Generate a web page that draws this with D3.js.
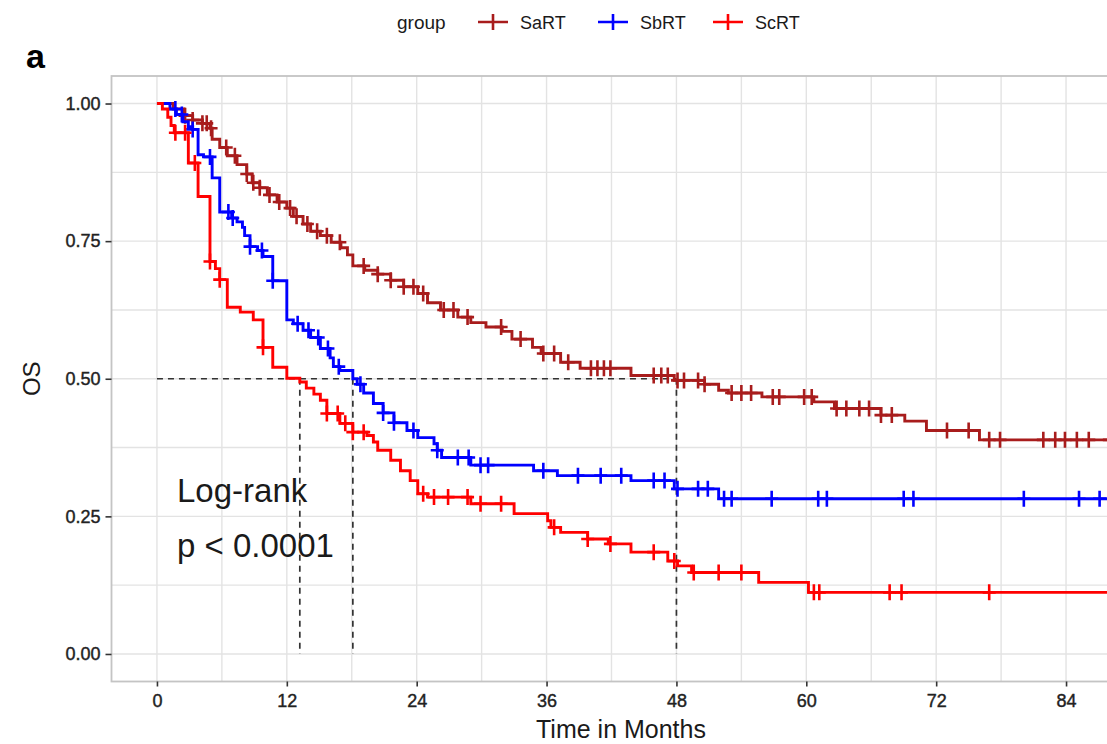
<!DOCTYPE html>
<html>
<head>
<meta charset="utf-8">
<script src="https://cdn.jsdelivr.net/npm/d3@7"></script>
<style>
  body { margin: 0; background: #fff; }
  text { font-family: "Liberation Sans", Arial, sans-serif; }
</style>
</head>
<body>
<div id="vis"></div>
<script>
'use strict';

// Group names and line colours
const groups = ["SaRT", "SbRT", "ScRT"];
const groupColors = ["#A81C1C", "#0000FF", "#FF0000"];

// Kaplan-Meier steps: time (months) where the curve drops, and survival after the drop
const saTimes = [0, 1.5, 2.5, 3.3, 4.2, 4.9, 5.1, 5.8, 6.5, 7.4, 8.3, 8.8, 9.5, 10.2, 11.1, 12.0, 12.6, 13.5, 14.2, 15.1, 16.1, 17.0, 17.6, 18.1, 19.2, 20.4, 21.6, 22.8, 24.1, 25.0, 26.2, 27.8, 29.0, 30.4, 31.9, 32.8, 34.7, 35.5, 37.3, 39.1, 43.8, 47.8, 50.6, 51.9, 52.8, 55.9, 60.7, 62.6, 66.9, 69.1, 71.1, 76.0];
const saSurv = [1, 0.99, 0.978, 0.970, 0.964, 0.955, 0.935, 0.920, 0.905, 0.889, 0.872, 0.856, 0.847, 0.834, 0.821, 0.810, 0.795, 0.781, 0.768, 0.760, 0.748, 0.738, 0.725, 0.705, 0.697, 0.690, 0.679, 0.667, 0.655, 0.638, 0.625, 0.612, 0.602, 0.594, 0.586, 0.572, 0.557, 0.546, 0.530, 0.519, 0.506, 0.497, 0.490, 0.479, 0.474, 0.467, 0.458, 0.446, 0.434, 0.423, 0.406, 0.389];
const saCensor = [2.6, 3.3, 4.2, 4.6, 5.0, 6.4, 7.2, 8.3, 8.9, 9.5, 10.4, 11.3, 12.3, 12.9, 13.9, 14.8, 15.7, 16.9, 19.1, 20.4, 21.6, 22.8, 23.7, 24.6, 26.5, 27.4, 28.7, 31.8, 33.6, 35.7, 36.7, 38.0, 40.1, 40.7, 41.3, 41.9, 45.9, 46.6, 47.2, 48.1, 48.7, 50.0, 50.6, 53.1, 54.0, 54.9, 56.9, 57.5, 59.8, 60.5, 62.8, 63.7, 64.9, 65.8, 66.9, 67.9, 73.0, 75.0, 76.9, 77.9, 81.9, 83.0, 83.9, 85.0, 86.1, 88.0];

const sbTimes = [0, 1.2, 1.8, 2.4, 2.9, 3.3, 3.8, 4.3, 5.1, 5.8, 6.9, 7.4, 7.9, 8.1, 8.6, 9.3, 9.8, 10.7, 12.0, 12.6, 13.5, 14.2, 15.1, 16.0, 16.3, 16.9, 18.1, 18.5, 19.1, 20.0, 20.9, 21.9, 23.1, 24.1, 25.6, 25.9, 26.3, 29.0, 34.8, 37.0, 43.8, 47.8, 51.9];
const sbSurv = [1, 0.99, 0.98, 0.967, 0.958, 0.953, 0.907, 0.903, 0.865, 0.803, 0.792, 0.785, 0.775, 0.760, 0.740, 0.733, 0.722, 0.678, 0.607, 0.600, 0.588, 0.575, 0.555, 0.538, 0.522, 0.515, 0.500, 0.490, 0.474, 0.455, 0.438, 0.420, 0.406, 0.393, 0.382, 0.370, 0.357, 0.343, 0.333, 0.324, 0.315, 0.300, 0.282];
const sbCensor = [1.7, 2.3, 3.3, 4.9, 6.6, 7.0, 8.6, 9.7, 10.7, 13.0, 14.0, 14.9, 15.8, 16.8, 18.8, 20.9, 21.9, 23.7, 25.9, 27.8, 28.8, 29.9, 30.6, 35.7, 38.9, 41.0, 42.9, 45.9, 46.9, 48.1, 50.0, 50.9, 52.4, 53.1, 56.8, 61.1, 61.9, 69.0, 69.9, 80.1, 85.2, 87.1];

const scTimes = [0, 0.5, 1.0, 1.3, 1.6, 2.9, 3.8, 4.9, 5.4, 5.8, 6.5, 7.7, 8.9, 9.8, 10.7, 12.0, 13.2, 13.8, 14.5, 15.1, 15.7, 16.9, 18.1, 19.4, 20.0, 20.4, 21.6, 22.5, 23.4, 24.1, 25.0, 29.0, 33.0, 36.1, 36.4, 37.3, 39.8, 41.7, 43.8, 47.2, 48.1, 49.4, 55.6, 60.2];
const scSurv = [1, 0.99, 0.975, 0.96, 0.947, 0.892, 0.831, 0.713, 0.700, 0.680, 0.630, 0.621, 0.607, 0.557, 0.521, 0.501, 0.494, 0.483, 0.472, 0.461, 0.437, 0.419, 0.403, 0.397, 0.385, 0.370, 0.352, 0.333, 0.315, 0.291, 0.285, 0.273, 0.255, 0.242, 0.230, 0.221, 0.209, 0.200, 0.185, 0.169, 0.160, 0.148, 0.130, 0.112];
const scCensor = [1.7, 2.6, 3.5, 4.9, 5.8, 9.8, 15.7, 16.7, 17.4, 18.1, 19.1, 24.6, 25.6, 26.9, 28.7, 29.9, 31.8, 36.7, 39.8, 41.9, 45.9, 47.8, 49.6, 51.9, 54.0, 60.7, 61.2, 67.7, 68.8, 76.9];

// Follow-up end for every curve
const endTime = 90;

// Median survival times (dashed guide lines)
const medianTimes = [13.2, 18.1, 48.0];

// Axis ticks
const xTicks = [0, 12, 24, 36, 48, 60, 72, 84];
const xMinor = [6, 18, 30, 42, 54, 66, 78];
const yTicks = [0, 0.25, 0.5, 0.75, 1];
const yMinor = [0.125, 0.375, 0.625, 0.875];
const yTickLabels = ["0.00", "0.25", "0.50", "0.75", "1.00"];

const constraints = { width: 1107, height: 744 };
const panel = { left: 111.5, right: 1111.5, top: 76, bottom: 681.5 };

const x = d3.scaleLinear().domain([-4.2, 88.2]).range([panel.left, panel.right]);
const y = d3.scaleLinear().domain([-0.05, 1.05]).range([panel.bottom, panel.top]);

const svg = d3.select("#vis").append("svg")
    .attr("width", constraints.width)
    .attr("height", constraints.height);

svg.append("defs").append("clipPath")
    .attr("id", "clip")
    .append("rect")
        .attr("x", panel.left)
        .attr("y", panel.top)
        .attr("width", panel.right - panel.left)
        .attr("height", panel.bottom - panel.top);

drawGrid();
drawAxes();
drawMedians();
drawCurve(saTimes, saSurv, saCensor, groupColors[0]);
drawCurve(sbTimes, sbSurv, sbCensor, groupColors[1]);
drawCurve(scTimes, scSurv, scCensor, groupColors[2]);
drawLabels();
drawLegend();

// Grid lines and panel border
function drawGrid() {
    let grid = svg.append("g").attr("clip-path", "url(#clip)");
    grid.selectAll(".vx")
        .data(xTicks.concat(xMinor))
        .enter()
        .append("line")
            .attr("x1", (d) => x(d)).attr("x2", (d) => x(d))
            .attr("y1", panel.top).attr("y2", panel.bottom)
            .attr("stroke", "#E3E3E3")
            .attr("stroke-width", 1.4);
    grid.selectAll(".hy")
        .data(yTicks.concat(yMinor))
        .enter()
        .append("line")
            .attr("x1", panel.left).attr("x2", panel.right)
            .attr("y1", (d) => y(d)).attr("y2", (d) => y(d))
            .attr("stroke", "#E3E3E3")
            .attr("stroke-width", 1.4);
    svg.append("rect")
        .attr("x", panel.left)
        .attr("y", panel.top)
        .attr("width", panel.right - panel.left)
        .attr("height", panel.bottom - panel.top)
        .attr("fill", "none")
        .attr("stroke", "#C4C4C4")
        .attr("stroke-width", 1.8);
}

// Axes with ggplot-like ticks
function drawAxes() {
    let xAxis = svg.append("g")
        .attr("transform", "translate(0," + panel.bottom + ")")
        .call(d3.axisBottom(x).tickValues(xTicks).tickSize(5).tickPadding(8));
    let yAxis = svg.append("g")
        .attr("transform", "translate(" + panel.left + ",0)")
        .call(d3.axisLeft(y).tickValues(yTicks).tickSize(6).tickPadding(5)
            .tickFormat((d, i) => yTickLabels[i]));
    [xAxis, yAxis].forEach((a) => {
        a.select(".domain").remove();
        a.selectAll(".tick line").attr("stroke", "#333").attr("stroke-width", 1.6);
        a.selectAll(".tick text")
            .attr("fill", "#222")
            .style("font-size", "18px")
            .style("font-family", "'Liberation Sans', Arial, sans-serif")
            .style("stroke", "#222")
            .style("stroke-width", 0.4);
    });
}

// Dashed median lines
function drawMedians() {
    let g = svg.append("g")
        .attr("stroke", "#333")
        .attr("stroke-width", 1.7)
        .attr("stroke-dasharray", "6,5")
        .attr("fill", "none");
    g.append("line")
        .attr("x1", x(0)).attr("x2", x(d3.max(medianTimes)))
        .attr("y1", y(0.5)).attr("y2", y(0.5));
    g.selectAll(".med")
        .data(medianTimes)
        .enter()
        .append("line")
            .attr("x1", (d) => x(d)).attr("x2", (d) => x(d))
            .attr("y1", y(0.5)).attr("y2", y(0));
}

// Step value of a curve at time t
function survAt(times, surv, t) {
    let i = d3.bisectRight(times, t) - 1;
    return surv[Math.max(i, 0)];
}

// One KM step curve with its censor crosses
function drawCurve(times, surv, censor, color) {
    let pts = times.map((t, i) => [t, surv[i]]);
    pts.push([endTime, surv[surv.length - 1]]);
    let g = svg.append("g").attr("clip-path", "url(#clip)");
    g.append("path")
        .datum(pts)
        .attr("fill", "none")
        .attr("stroke", color)
        .attr("stroke-width", 2.9)
        .attr("d", d3.line()
            .x((d) => x(d[0]))
            .y((d) => y(d[1]))
            .curve(d3.curveStepAfter));
    g.selectAll(".cens")
        .data(censor)
        .enter()
        .append("path")
            .attr("transform", (d) => "translate(" + x(d) + "," + y(survAt(times, surv, d)) + ")")
            .attr("d", "M-6.5,0H6.5M0,-8V8")
            .attr("stroke", color)
            .attr("stroke-width", 2.6)
            .attr("fill", "none");
}

// Titles and annotations
function drawLabels() {
    svg.append("text")
        .attr("x", 621)
        .attr("y", 738)
        .attr("text-anchor", "middle")
        .attr("fill", "#1a1a1a")
        .style("font-size", "25px")
        .text("Time in Months");
    svg.append("text")
        .attr("transform", "translate(40," + y(0.5) + ")rotate(-90)")
        .attr("text-anchor", "middle")
        .attr("fill", "#1a1a1a")
        .style("font-size", "24px")
        .text("OS");
    svg.append("text")
        .attr("x", 26)
        .attr("y", 68)
        .attr("fill", "#000")
        .style("font-size", "34px")
        .style("font-weight", "bold")
        .text("a");
    svg.append("text")
        .attr("x", 177)
        .attr("y", 502)
        .attr("fill", "#1a1a1a")
        .style("font-size", "33px")
        .text("Log-rank");
    svg.append("text")
        .attr("x", 177)
        .attr("y", 557)
        .attr("fill", "#1a1a1a")
        .style("font-size", "33px")
        .text("p < 0.0001");
}

// Legend on top
function drawLegend() {
    let legend = svg.append("g");
    legend.append("text")
        .attr("x", 397)
        .attr("y", 29)
        .attr("fill", "#1a1a1a")
        .style("font-size", "19px")
        .text("group");
    const keyX = [478, 598, 713];
    let items = legend.selectAll(".item")
        .data(groups)
        .enter()
        .append("g")
            .attr("transform", (d, i) => "translate(" + keyX[i] + ",22)");
    items.append("path")
        .attr("d", "M0,0H30M15,-8V8")
        .attr("stroke", (d, i) => groupColors[i])
        .attr("stroke-width", 2.6)
        .attr("fill", "none");
    items.append("text")
        .attr("x", 42)
        .attr("y", 7)
        .attr("fill", "#1a1a1a")
        .style("font-size", "18px")
        .text((d) => d);
}
</script>
</body>
</html>
